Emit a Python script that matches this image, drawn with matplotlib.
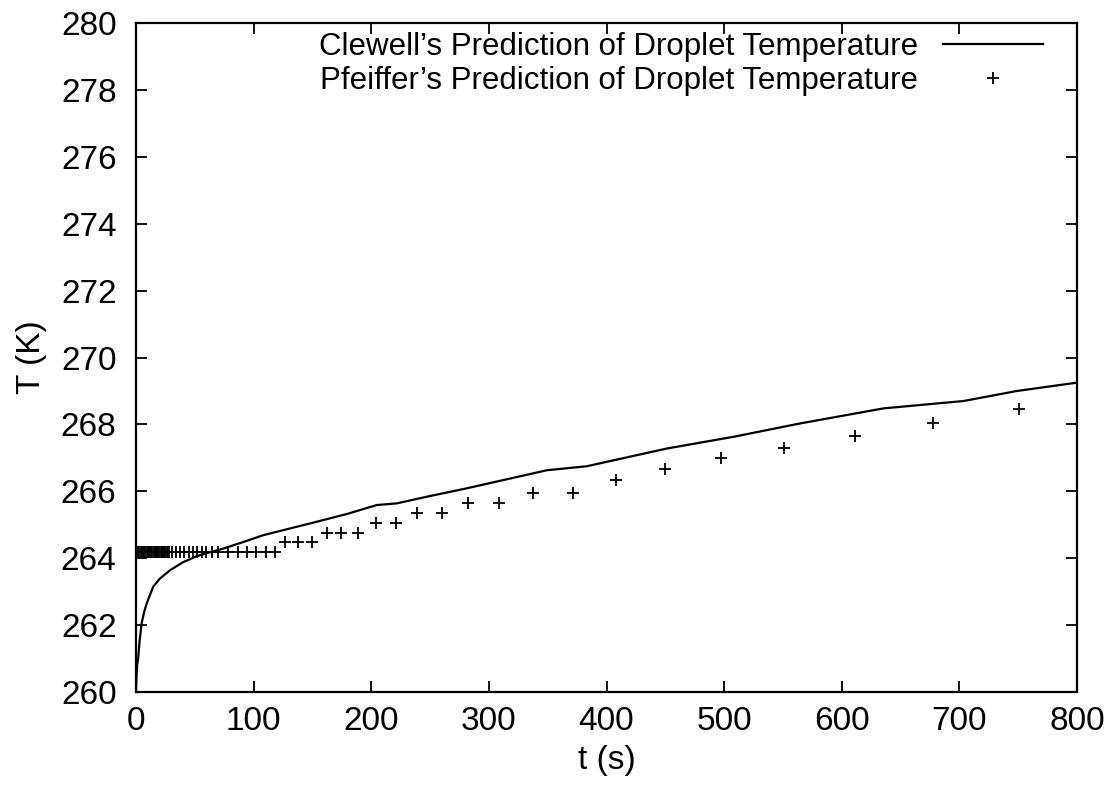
import matplotlib
matplotlib.use("Agg")
import matplotlib.pyplot as plt
from matplotlib import font_manager

names = {f.name for f in font_manager.fontManager.ttflist}
fam = ['Liberation Sans Narrow', 'Liberation Sans', 'DejaVu Sans']
plt.rcParams['font.family'] = [f for f in fam if f in names] or ['DejaVu Sans']

# Clewell's prediction (solid line)
clewell_t = [0, 0.5, 1, 2, 3, 4.8, 7, 9.1, 14.7, 20, 28.9, 40, 51.6, 62, 74.3, 90,
             108.3, 119.6, 153.6, 180, 204.7, 221.7, 250, 281.2, 349.2, 383.2,
             451.3, 507.9, 564.6, 635.5, 703.5, 748.9, 800]
clewell_T = [260.0, 260.5, 260.8, 261.05, 261.5, 262.05, 262.4, 262.65, 263.15, 263.38,
             263.64, 263.88, 264.06, 264.17, 264.29, 264.47, 264.69, 264.79, 265.09,
             265.33, 265.59, 265.64, 265.86, 266.09, 266.63, 266.75, 267.28, 267.63,
             268.03, 268.48, 268.70, 269.0, 269.25]

# Pfeiffer's prediction (+ markers)
pfeiffer_t = [0, 1, 2, 3, 4, 5, 6, 7, 8, 9, 10, 11, 12, 13, 14, 15, 16, 17, 18, 19,
              20, 21, 22, 23, 24, 25, 26, 27, 28,
              30.3, 33.8, 37.4, 41.1, 44.8, 48.5, 52.2, 55.9, 59.5, 65, 70, 78.5, 87,
              94.7, 102, 110.3, 118.2,
              126.7, 138, 149.4,
              162.2, 174, 188.5,
              203.8, 220.8,
              239, 260,
              282.6, 308.9,
              337.9, 371.3,
              408.2, 449.8, 497.2, 551.2, 611.4, 677.4, 750.3]
pfeiffer_T = [264.2] * 29 + \
             [264.2, 264.2, 264.2, 264.2, 264.2, 264.2, 264.2, 264.2, 264.2, 264.2,
              264.2, 264.2, 264.2, 264.2, 264.2, 264.2, 264.2,
              264.49, 264.49, 264.49,
              264.76, 264.76, 264.76,
              265.06, 265.06,
              265.34, 265.34,
              265.64, 265.64,
              265.95, 265.95,
              266.33, 266.66, 267.00, 267.31, 267.66, 268.03, 268.45]

x_ticks = [0, 100, 200, 300, 400, 500, 600, 700, 800]
y_ticks = [260, 262, 264, 266, 268, 270, 272, 274, 276, 278, 280]

fig = plt.figure(figsize=(11.09, 7.89), dpi=100)
ax = fig.add_axes([0.1226, 0.1229, 0.9712 - 0.1226, 0.9708 - 0.1229])

ax.plot(clewell_t, clewell_T, color='black', lw=1.6,
        label="Clewell\u2019s Prediction of Droplet Temperature")
ax.plot(pfeiffer_t, pfeiffer_T, linestyle='none', marker='+', color='black',
        markersize=9, markeredgewidth=1.3,
        label="Pfeiffer\u2019s Prediction of Droplet Temperature")

ax.set_xlim(0, 800)
ax.set_ylim(260, 280)
ax.set_xticks(x_ticks)
ax.set_yticks(y_ticks)
ax.tick_params(direction='in', top=True, right=True, length=8, width=1.3,
               labelsize=24)
ax.tick_params(axis='x', pad=10)
ax.tick_params(axis='y', pad=14)
for s in ax.spines.values():
    s.set_linewidth(1.6)

ax.set_xlabel('t (s)', fontsize=24, labelpad=6)
ax.set_ylabel('T (K)', fontsize=24, labelpad=10)

leg = ax.legend(loc='upper right', bbox_to_anchor=(0.964, 0.987), frameon=False,
                markerfirst=False, fontsize=22.5, handlelength=3.2,
                handletextpad=0.8, labelspacing=0.15, borderpad=0,
                borderaxespad=0)

fig.savefig('out.png', dpi=100)
